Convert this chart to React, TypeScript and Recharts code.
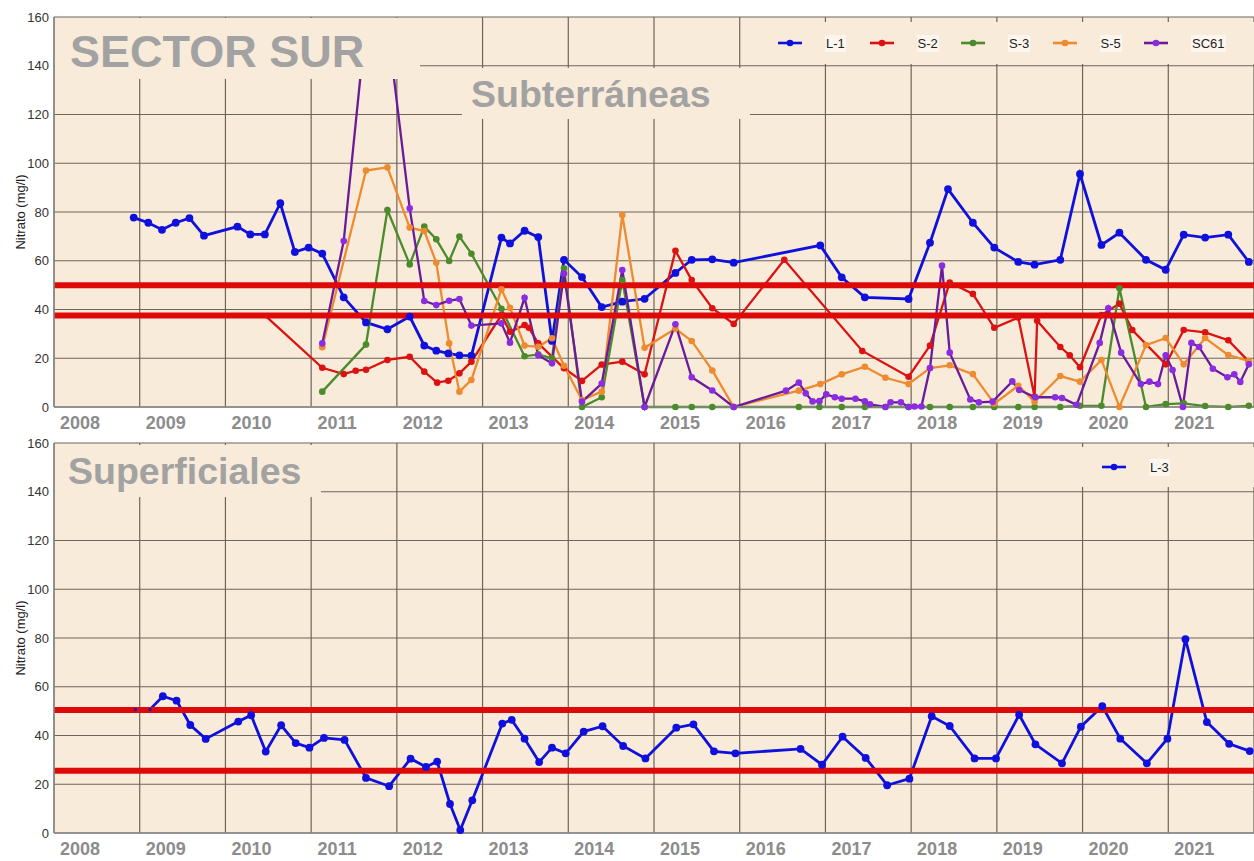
import {
  LineChart,
  Line,
  XAxis,
  YAxis,
  CartesianGrid,
  ReferenceLine,
  Legend
} from "recharts";

// años del eje x y marcas del eje y
const anios = [2008, 2009, 2010, 2011, 2012, 2013, 2014, 2015, 2016, 2017, 2018, 2019, 2020, 2021];
const ticksNitrato = [0, 20, 40, 60, 80, 100, 120, 140, 160];

// --- Subterráneas ---
const l1Fechas = [2008.93, 2009.1, 2009.26, 2009.42, 2009.58, 2009.75, 2010.14, 2010.29, 2010.46, 2010.64, 2010.81, 2010.97, 2011.13, 2011.38, 2011.64, 2011.89, 2012.15, 2012.32, 2012.46, 2012.6, 2012.73, 2012.87, 2013.22, 2013.32, 2013.49, 2013.65, 2013.81, 2013.95, 2014.16, 2014.39, 2014.63, 2014.89, 2015.25, 2015.44, 2015.68, 2015.93, 2016.94, 2017.19, 2017.46, 2017.97, 2018.22, 2018.43, 2018.72, 2018.97, 2019.25, 2019.44, 2019.74, 2019.97, 2020.22, 2020.43, 2020.74, 2020.97, 2021.18, 2021.43, 2021.7, 2021.94];
const l1Nitrato = [77.7, 75.6, 72.7, 75.6, 77.5, 70.3, 74, 70.8, 70.8, 83.6, 63.6, 65.4, 62.9, 45, 34.7, 31.9, 37.1, 25.2, 23.1, 22, 21.2, 21.1, 69.5, 67.1, 72.3, 69.7, 27.1, 60.4, 53.3, 41, 43.2, 44.4, 55, 60.4, 60.6, 59.2, 66.3, 53.2, 45, 44.3, 67.4, 89.4, 75.6, 65.4, 59.5, 58.4, 60.4, 95.6, 66.5, 71.5, 60.4, 56.3, 70.7, 69.5, 70.7, 59.5];

const s2Fechas = [2010.48, 2011.13, 2011.38, 2011.52, 2011.64, 2011.89, 2012.15, 2012.32, 2012.47, 2012.6, 2012.73, 2012.87, 2013.22, 2013.32, 2013.49, 2013.54, 2013.65, 2013.95, 2014.16, 2014.39, 2014.63, 2014.89, 2015.25, 2015.44, 2015.68, 2015.93, 2016.52, 2017.43, 2017.97, 2018.22, 2018.45, 2018.72, 2018.97, 2019.25, 2019.44, 2019.47, 2019.74, 2019.85, 2019.97, 2020.22, 2020.43, 2020.58, 2020.97, 2021.18, 2021.43, 2021.7, 2021.94];
const s2Nitrato = [37, 16.1, 13.5, 14.9, 15.3, 19.3, 20.6, 14.5, 10, 10.8, 13.8, 18.6, 37.7, 30.9, 33.6, 32.5, 26.1, 15.9, 10.7, 17.4, 18.6, 13.4, 64.1, 52.1, 40.5, 34.1, 60.4, 23, 12.4, 25.2, 51.1, 46.4, 32.5, 36.7, 4.2, 35.4, 24.6, 21.2, 16.3, 37.7, 42.4, 31.6, 17.5, 31.6, 30.6, 27.4, 18.6];

const s3Fechas = [2011.13, 2011.64, 2011.89, 2012.15, 2012.32, 2012.46, 2012.61, 2012.73, 2012.87, 2013.22, 2013.49, 2013.65, 2013.81, 2013.95, 2014.16, 2014.39, 2014.63, 2014.89, 2015.25, 2015.44, 2015.68, 2015.93, 2016.69, 2016.93, 2017.19, 2017.46, 2017.7, 2017.97, 2018.22, 2018.45, 2018.72, 2018.97, 2019.25, 2019.44, 2019.74, 2019.97, 2020.22, 2020.43, 2020.74, 2020.97, 2021.18, 2021.43, 2021.7, 2021.94];
const s3Nitrato = [6.3, 25.6, 80.8, 58.5, 74, 68.8, 59.9, 69.9, 62.9, 40.3, 20.8, 21.6, 20, 56.9, 0, 4, 52.1, 0, 0, 0, 0, 0, 0, 0, 0, 0, 0, 0, 0, 0, 0, 0, 0, 0, 0, 0.5, 0.5, 48.7, 0, 1.2, 1.5, 0.4, 0, 0.5];

const s5Fechas = [2011.13, 2011.64, 2011.89, 2012.15, 2012.32, 2012.46, 2012.61, 2012.73, 2012.87, 2013.22, 2013.32, 2013.49, 2013.65, 2013.81, 2013.95, 2014.16, 2014.39, 2014.63, 2014.89, 2015.25, 2015.44, 2015.68, 2015.93, 2016.69, 2016.94, 2017.19, 2017.46, 2017.7, 2017.97, 2018.22, 2018.45, 2018.72, 2018.97, 2019.25, 2019.44, 2019.74, 2019.97, 2020.22, 2020.43, 2020.74, 2020.97, 2021.18, 2021.43, 2021.7, 2021.94];
const s5Nitrato = [24.5, 97, 98.3, 73.6, 72.2, 59.2, 26.1, 6.3, 11.1, 48.3, 40.7, 25.2, 24.7, 28.2, 16.9, 2.9, 6.3, 78.8, 24.3, 32.1, 27.1, 15, 0, 6.7, 9.4, 13.4, 16.5, 12, 9.4, 16, 17.1, 13.5, 1.4, 8.7, 2.2, 12.7, 10.4, 19.3, 0, 25.4, 28.3, 17.5, 28.3, 21.3, 18.9];

const sc61Fechas = [2011.13, 2011.38, 2011.64, 2011.89, 2012.15, 2012.32, 2012.46, 2012.61, 2012.73, 2012.87, 2013.22, 2013.32, 2013.49, 2013.65, 2013.81, 2013.95, 2014.16, 2014.39, 2014.63, 2014.89, 2015.25, 2015.44, 2015.68, 2015.93, 2016.54, 2016.69, 2016.77, 2016.85, 2016.93, 2017.01, 2017.11, 2017.19, 2017.35, 2017.46, 2017.52, 2017.7, 2017.76, 2017.88, 2017.97, 2018.04, 2018.12, 2018.22, 2018.36, 2018.45, 2018.69, 2018.79, 2018.95, 2019.18, 2019.26, 2019.45, 2019.68, 2019.76, 2019.93, 2020.2, 2020.3, 2020.45, 2020.68, 2020.78, 2020.88, 2020.97, 2021.05, 2021.17, 2021.27, 2021.36, 2021.52, 2021.69, 2021.77, 2021.84, 2021.94];
const sc61Nitrato = [26.1, 68.1, 158, 157, 81.5, 43.5, 41.8, 43.6, 44.3, 33.4, 34.3, 26.4, 44.8, 21.2, 17.9, 54.8, 2.2, 9.6, 56.2, 0, 33.9, 12.2, 6.8, 0, 6.7, 10, 5.6, 2.3, 2.4, 5.2, 4, 3.4, 3.4, 2.3, 1.1, 0, 1.9, 1.9, 0, 0.2, 0.2, 16, 58, 22.3, 3.1, 1.9, 2.2, 10.5, 7, 4, 4, 3.7, 0.9, 26.3, 40.5, 22.3, 9.4, 10.4, 9.4, 21.2, 15.2, 0, 26.3, 24.6, 15.7, 12.2, 13.4, 10.3, 17.5];

// --- Superficiales ---
const l3Fechas = [2008.95, 2009.12, 2009.27, 2009.43, 2009.59, 2009.77, 2010.15, 2010.3, 2010.47, 2010.65, 2010.82, 2010.98, 2011.15, 2011.39, 2011.64, 2011.91, 2012.16, 2012.34, 2012.47, 2012.62, 2012.74, 2012.88, 2013.23, 2013.34, 2013.49, 2013.66, 2013.81, 2013.97, 2014.18, 2014.4, 2014.64, 2014.9, 2015.26, 2015.46, 2015.7, 2015.95, 2016.71, 2016.96, 2017.2, 2017.47, 2017.72, 2017.98, 2018.24, 2018.45, 2018.74, 2018.99, 2019.26, 2019.45, 2019.76, 2019.98, 2020.23, 2020.44, 2020.75, 2020.99, 2021.2, 2021.45, 2021.71, 2021.95];
const l3Nitrato = [50.7, 50.7, 56.1, 54.3, 44.3, 38.6, 45.7, 48.3, 33.4, 44.2, 36.9, 35, 39, 38.2, 22.6, 19.2, 30.5, 27.1, 29.3, 11.9, 1.2, 13.4, 44.9, 46.4, 38.7, 29.1, 35, 32.7, 41.6, 43.8, 35.7, 30.6, 43.2, 44.6, 33.5, 32.7, 34.5, 28, 39.5, 30.8, 19.6, 22.3, 47.9, 43.9, 30.6, 30.6, 48.5, 36.4, 28.6, 43.6, 52, 38.7, 28.6, 38.7, 79.5, 45.5, 36.6, 33.6];

// límites (líneas rojas)
const umbralesSubterraneas = [50, 37.5];
const umbralesSuperficiales = [50.5, 25.5];

type Serie = {
  nombre: string;
  color: string;
  punto: string;
  fechas: number[];
  valores: number[];
  chicos: number;
};

const seriesSubterraneas: Serie[] = [
  { nombre: "L-1", color: "#1010dd", punto: "#1010dd", fechas: l1Fechas, valores: l1Nitrato, chicos: 0 },
  { nombre: "S-2", color: "#dc1212", punto: "#dc1212", fechas: s2Fechas, valores: s2Nitrato, chicos: 1 },
  { nombre: "S-3", color: "#4b8b2b", punto: "#4b8b2b", fechas: s3Fechas, valores: s3Nitrato, chicos: 0 },
  { nombre: "S-5", color: "#ee8a30", punto: "#ee8a30", fechas: s5Fechas, valores: s5Nitrato, chicos: 0 },
  { nombre: "SC61", color: "#6a1b9a", punto: "#8b2be2", fechas: sc61Fechas, valores: sc61Nitrato, chicos: 0 }
];

const seriesSuperficiales: Serie[] = [
  { nombre: "L-3", color: "#1010dd", punto: "#1010dd", fechas: l3Fechas, valores: l3Nitrato, chicos: 2 }
];

const FONDO = "#f9ebd9";
const GRIS_TITULO = "#a2a2a2";
const ALTO = 440;

function armar(s: Serie) {
  return s.fechas.map((x, i) => ({ x, v: s.valores[i] }));
}

function TickAnio(p: any) {
  return (
    <text
      x={p.x + 26}
      y={p.y}
      dy={14}
      textAnchor="middle"
      fill="#8c8c8c"
      fontSize={18}
      fontWeight="bold"
      fontFamily="'Liberation Sans Narrow', 'Liberation Sans', Arial, sans-serif"
    >
      {p.payload.value}
    </text>
  );
}

function EtiquetaY(p: any) {
  const vb = p.viewBox || {};
  const cy = (vb.y ?? 0) + (vb.height ?? 0) / 2;
  return (
    <text
      x={22}
      y={cy}
      transform={`rotate(-90 22 ${cy})`}
      textAnchor="middle"
      dominantBaseline="middle"
      fontSize={13}
      fill="#222"
      fontFamily="'Liberation Sans', Arial, sans-serif"
    >
      Nitrato (mg/l)
    </text>
  );
}

function Leyenda({ series, padLeft }: { series: Serie[]; padLeft: number }) {
  return (
    <div
      style={{
        width: "100%",
        height: "100%",
        background: FONDO,
        display: "flex",
        alignItems: "center",
        paddingLeft: padLeft,
        boxSizing: "border-box",
        fontFamily: "'Liberation Sans', Arial, sans-serif",
        fontSize: 13,
        color: "#222"
      }}
    >
      {series.map((s) => (
        <div key={s.nombre} style={{ display: "flex", alignItems: "center", width: 91.5 }}>
          <svg width={24} height={10} style={{ marginRight: 23 }}>
            <line x1={0} y1={5} x2={24} y2={5} stroke={s.color} strokeWidth={2.6} />
            <circle cx={12} cy={5} r={3.3} fill={s.punto} />
          </svg>
          <span style={{ background: "#fcf6ee", padding: "1px 1px", lineHeight: "15px" }}>{s.nombre}</span>
        </div>
      ))}
    </div>
  );
}

type Caja = { x: number; y: number; w: number; h: number; texto?: string; tx?: number; ty?: number; size?: number };

function Panel({
  series,
  umbrales,
  cajas,
  leyenda
}: {
  series: Serie[];
  umbrales: number[];
  cajas: Caja[];
  leyenda: { left: number; top: number; width: number; height: number; pad: number };
}) {
  return (
    <div style={{ position: "relative", width: 1254, height: ALTO }}>
      <LineChart width={1254} height={ALTO} margin={{ top: 17, right: 0, bottom: 0, left: 0 }}>
        <CartesianGrid fill={FONDO} fillOpacity={1} stroke="#6e655c" strokeWidth={1.2} />
        <XAxis
          type="number"
          dataKey="x"
          domain={[2008, 2022]}
          ticks={anios}
          interval={0}
          allowDataOverflow
          tickLine={false}
          tickSize={6}
          tickMargin={2}
          height={ALTO - 407}
          axisLine={{ stroke: "#8a8a8a", strokeWidth: 1.5 }}
          tick={(p: any) => <TickAnio {...p} />}
        />
        <YAxis
          type="number"
          domain={[0, 160]}
          ticks={ticksNitrato}
          interval={0}
          width={54}
          tickLine={false}
          tickSize={4}
          tickMargin={1}
          axisLine={{ stroke: "#8a8a8a", strokeWidth: 1.5 }}
          tick={{ fill: "#333", fontSize: 13, fontFamily: "'Liberation Sans', Arial, sans-serif" }}
          label={(p: any) => <EtiquetaY {...p} />}
        />
        {series.map((s) => (
          <Line
            key={s.nombre}
            data={armar(s)}
            dataKey="v"
            name={s.nombre}
            type="linear"
            stroke={s.color}
            strokeWidth={s.nombre.startsWith("L") ? 2.8 : 2.3}
            isAnimationActive={false}
            dot={(p: any) => (
              <circle
                key={`${s.nombre}-${p.index}`}
                cx={p.cx}
                cy={p.cy}
                r={p.index < s.chicos ? 1.6 : s.nombre.startsWith("L") ? 3.9 : 3.3}
                fill={s.punto}
              />
            )}
            activeDot={false}
          />
        ))}
        {umbrales.map((u) => (
          <ReferenceLine key={u} y={u} stroke="#de0a0a" strokeWidth={6} />
        ))}
        <Legend
          layout="horizontal"
          verticalAlign="middle"
          align="center"
          wrapperStyle={{ left: leyenda.left, top: leyenda.top, width: leyenda.width, height: leyenda.height }}
          content={() => <Leyenda series={series} padLeft={leyenda.pad} />}
        />
      </LineChart>
      <svg
        width={1254}
        height={ALTO}
        style={{ position: "absolute", left: 0, top: 0, pointerEvents: "none" }}
      >
        {cajas.map((c, i) => (
          <g key={i}>
            <rect x={c.x} y={c.y} width={c.w} height={c.h} fill={FONDO} />
            {c.texto && (
              <text
                x={c.tx}
                y={c.ty}
                fill={GRIS_TITULO}
                fontSize={c.size}
                fontWeight="bold"
                fontFamily="'Liberation Sans', Arial, sans-serif"
              >
                {c.texto}
              </text>
            )}
          </g>
        ))}
      </svg>
    </div>
  );
}

export default function App() {
  return (
    <div
      style={{
        position: "absolute",
        left: 0,
        top: 0,
        width: 1254,
        height: 861,
        overflow: "hidden",
        background: "#fff"
      }}
    >
      <div style={{ position: "absolute", left: 0, top: 0 }}>
        <Panel
          series={seriesSubterraneas}
          umbrales={umbralesSubterraneas}
          cajas={[
            { x: 55, y: 18, w: 365, h: 61, texto: "SECTOR SUR", tx: 70, ty: 67, size: 45 },
            { x: 462, y: 68, w: 288, h: 51, texto: "Subterráneas", tx: 471, ty: 107, size: 37.5 }
          ]}
          leyenda={{ left: 762, top: 22, width: 492, height: 42, pad: 16 }}
        />
      </div>
      <div style={{ position: "absolute", left: 0, top: 426 }}>
        <Panel
          series={seriesSuperficiales}
          umbrales={umbralesSuperficiales}
          cajas={[{ x: 55, y: 19, w: 266, h: 52, texto: "Superficiales", tx: 68, ty: 58, size: 37.5 }]}
          leyenda={{ left: 1078, top: 21, width: 176, height: 40, pad: 24 }}
        />
      </div>
    </div>
  );
}
